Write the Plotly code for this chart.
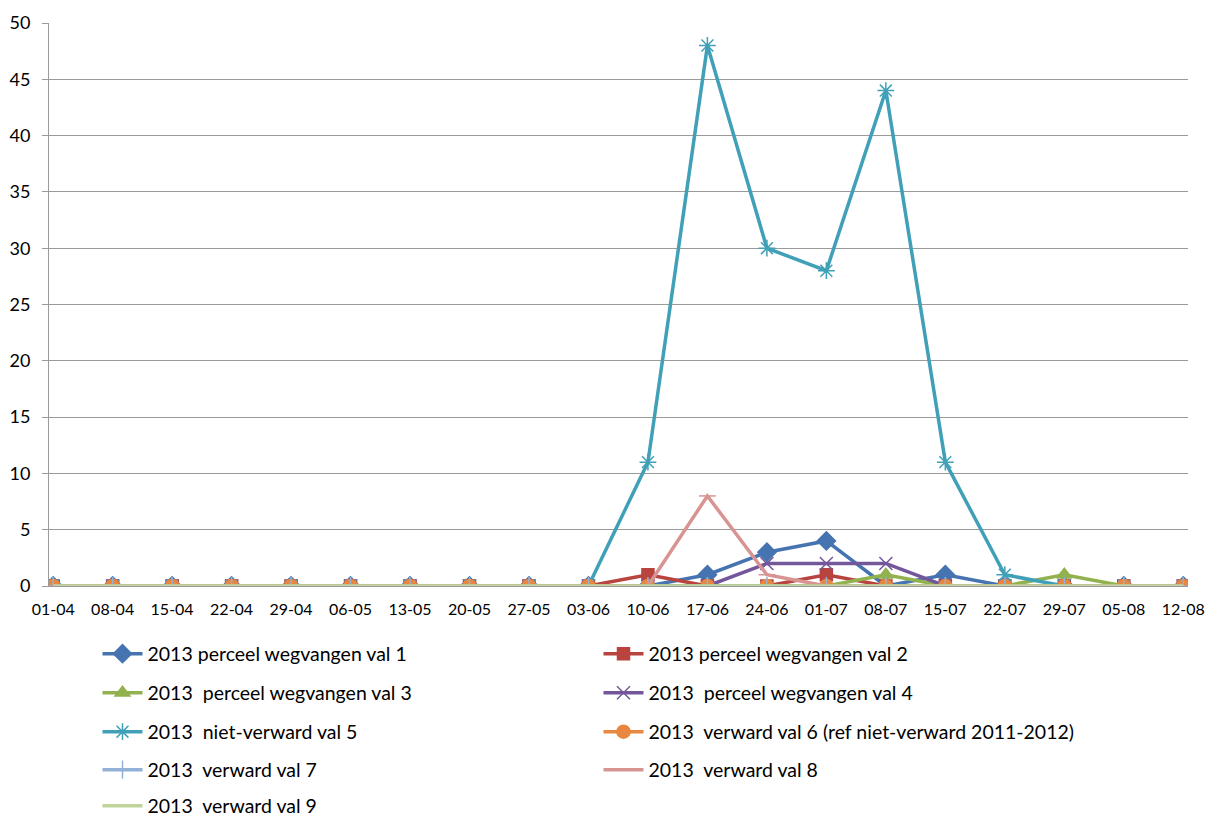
import plotly.graph_objects as go

dates = ["01-04", "08-04", "15-04", "22-04", "29-04", "06-05", "13-05", "20-05", "27-05", "03-06",
         "10-06", "17-06", "24-06", "01-07", "08-07", "15-07", "22-07", "29-07", "05-08", "12-08"]

z10 = [0] * 10
val1 = z10 + [0, 1, 3, 4, 0, 1, 0, 0, 0, 0]
val2 = z10 + [1, 0, 0, 1, 0, 0, 0, 0, 0, 0]
val3 = z10 + [0, 0, 0, 0, 1, 0, 0, 1, 0, 0]
val4 = z10 + [0, 0, 2, 2, 2, 0, 0, 0, 0, 0]
val5 = z10 + [11, 48, 30, 28, 44, 11, 1, 0, 0, 0]
val6 = z10 + [0, 0, 0, 0, 0, 0, 0, 0, 0, 0]
val7 = z10 + [0, 0, 0, 0, 0, 0, 0, 0, 0, 0]
val8 = z10 + [0, 8, 1, 0, 0, 0, 0, 0, 0, 0]
val9 = z10 + [0, 0, 0, 0, 0, 0, 0, 0, 0, 0]

names = ["2013 perceel wegvangen val 1", "2013 perceel wegvangen val 2",
         "2013  perceel wegvangen val 3", "2013  perceel wegvangen val 4",
         "2013  niet-verward val 5", "2013  verward val 6 (ref niet-verward 2011-2012)",
         "2013  verward val 7", "2013  verward val 8", "2013  verward val 9"]

series = [val1, val2, val3, val4, val5, val6, val7, val8, val9]
colors = ["#4674B0", "#B8433F", "#92B24F", "#74579B", "#40A0B8", "#E8873F", "#93B0D6", "#D89492", "#BFD49A"]
symbols = ["diamond", "square", "triangle-up", "x-thin-open", "asterisk-open", "circle",
           "cross-thin-open", "line-ew-open", None]
sizes = [14, 12, 13, 13, 14, 13, 13, 12, 0]

legend_ids = ["legend", "legend", "legend2", "legend2", "legend3", "legend3", "legend4", "legend4", "legend5"]

W, H = 1207, 818
plot_left, plot_right, plot_top, plot_bottom = 49, 1188, 23, 586
plot_h = plot_bottom - plot_top
plot_w = plot_right - plot_left
row_centers = [654, 693, 732, 770, 806]

fig = go.Figure()
for s, n, c, sym, sz, lg in zip(series, names, colors, symbols, sizes, legend_ids):
    if sym is None:
        fig.add_trace(go.Scatter(x=dates, y=s, name=n, mode="lines", legend=lg,
                                 line=dict(color=c, width=3.5)))
    else:
        fig.add_trace(go.Scatter(x=dates, y=s, name=n, mode="lines+markers", legend=lg,
                                 line=dict(color=c, width=3.5),
                                 marker=dict(symbol=sym, size=sz, color=c,
                                             line=dict(color=c, width=1.5))))

legend_common = dict(orientation="h", x=(97.5 - plot_left) / plot_w, xanchor="left", yanchor="middle",
                     entrywidth=446, entrywidthmode="pixels", itemwidth=40,
                     font=dict(size=19.5), traceorder="normal", bgcolor="rgba(0,0,0,0)")
layout_legends = {}
for i, yc in enumerate(row_centers):
    key = "legend" if i == 0 else f"legend{i+1}"
    layout_legends[key] = dict(legend_common, y=(plot_bottom - yc) / plot_h)

fig.update_layout(
    width=W, height=H,
    margin=dict(l=plot_left, r=W - plot_right, t=plot_top, b=H - plot_bottom, autoexpand=False),
    paper_bgcolor="white", plot_bgcolor="white",
    font=dict(family="Lato, Open Sans, sans-serif", color="#000000"),
    showlegend=True,
    **layout_legends,
)
fig.update_xaxes(type="category", range=[-0.07, 19.08], showgrid=False,
                 showline=True, linecolor="#9A9A9A", linewidth=1,
                 ticks="", tickfont=dict(size=16), ticklabelstandoff=9,
                 ticklabeloverflow="allow", zeroline=False)
fig.update_yaxes(range=[0, 50], dtick=5, showgrid=True, gridcolor="#9A9A9A", gridwidth=1,
                 showline=True, linecolor="#9A9A9A", linewidth=1,
                 ticks="outside", ticklen=6, tickcolor="#9A9A9A",
                 tickfont=dict(size=18), ticklabelstandoff=8, zeroline=False)

fig.write_html("out.html", config={"displayModeBar": False},
               post_script="document.body.style.margin='0';document.body.style.overflow='hidden';")
